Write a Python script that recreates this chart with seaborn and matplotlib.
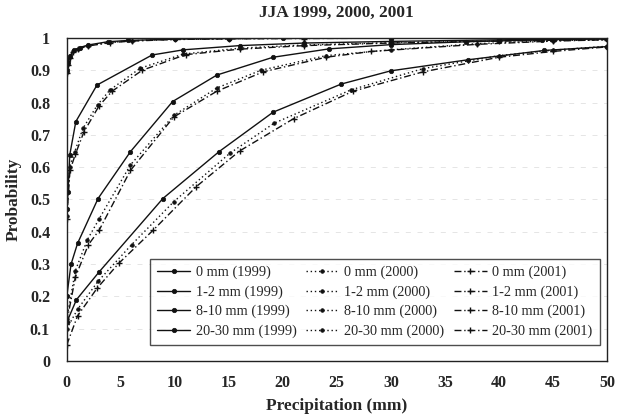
import numpy as np
import pandas as pd
import matplotlib
matplotlib.use("Agg")
import matplotlib.pyplot as plt
import seaborn as sns

# ---- data ----
classes = ["0 mm", "1-2 mm", "8-10 mm", "20-30 mm"]
years = ["1999", "2000", "2001"]

x_0_1999 = [0, 0.1, 0.3, 0.7, 1.2, 2, 3.8, 5.7, 10, 15, 20, 30, 40, 50]
y_0_1999 = [0.90, 0.925, 0.945, 0.962, 0.970, 0.978, 0.988, 0.992, 0.996, 0.998, 0.999, 1.0, 1.0, 1.0]
x_0_2000 = [0, 0.1, 0.3, 0.6, 1.0, 2, 4, 6, 10, 15, 22, 30, 40, 50]
y_0_2000 = [0.895, 0.92, 0.94, 0.958, 0.967, 0.976, 0.986, 0.991, 0.995, 0.997, 0.999, 1.0, 1.0, 1.0]
x_0_2001 = [0, 0.1, 0.3, 0.6, 1.0, 2, 4, 6, 10, 15, 22, 30, 40, 50]
y_0_2001 = [0.89, 0.915, 0.938, 0.955, 0.965, 0.975, 0.985, 0.990, 0.995, 0.997, 0.998, 0.999, 1.0, 1.0]

x_1_1999 = [0, 0.12, 0.28, 0.84, 2.8, 7.9, 10.8, 16, 22, 30, 40, 50]
y_1_1999 = [0.47, 0.524, 0.638, 0.741, 0.854, 0.947, 0.963, 0.976, 0.984, 0.989, 0.994, 0.997]
x_1_2000 = [0, 0.28, 0.74, 1.5, 2.85, 4.0, 6.8, 10.8, 16, 22, 30, 40, 50]
y_1_2000 = [0.45, 0.602, 0.648, 0.72, 0.793, 0.839, 0.906, 0.950, 0.968, 0.978, 0.985, 0.991, 0.995]
x_1_2001 = [0, 0.3, 0.8, 1.6, 3.0, 4.2, 7.0, 11, 16, 22, 30, 40, 50]
y_1_2001 = [0.44, 0.59, 0.64, 0.71, 0.79, 0.835, 0.90, 0.948, 0.965, 0.976, 0.984, 0.990, 0.995]

x_8_1999 = [0, 0.4, 1.0, 2.9, 5.9, 9.8, 13.9, 19.1, 24.3, 30, 37, 44, 50]
y_8_1999 = [0.20, 0.30, 0.364, 0.503, 0.648, 0.803, 0.885, 0.940, 0.966, 0.979, 0.988, 0.994, 0.997]
x_8_2000 = [0, 0.8, 1.9, 3.0, 5.9, 9.9, 13.9, 18.0, 24, 30, 38, 45, 50]
y_8_2000 = [0.13, 0.28, 0.375, 0.44, 0.607, 0.760, 0.845, 0.900, 0.945, 0.963, 0.982, 0.991, 0.995]
x_8_2001 = [0, 0.8, 2.0, 3.0, 5.9, 9.9, 13.9, 18.2, 24, 28.2, 38, 45, 50]
y_8_2001 = [0.12, 0.26, 0.36, 0.405, 0.59, 0.755, 0.835, 0.895, 0.940, 0.958, 0.980, 0.990, 0.994]

x_20_1999 = [0, 0.9, 3.0, 8.9, 14.1, 19.1, 25.4, 30.0, 37.1, 44.2, 50]
y_20_1999 = [0.12, 0.19, 0.276, 0.503, 0.648, 0.770, 0.857, 0.898, 0.932, 0.961, 0.973]
x_20_2000 = [0, 1.0, 2.9, 6.0, 9.9, 15.1, 19.2, 26.3, 33, 40, 45, 50]
y_20_2000 = [0.10, 0.16, 0.247, 0.36, 0.493, 0.643, 0.736, 0.839, 0.905, 0.945, 0.962, 0.974]
x_20_2001 = [0, 1.0, 2.8, 4.8, 8.0, 12, 16, 21, 26.5, 33, 40, 45, 50]
y_20_2001 = [0.05, 0.14, 0.225, 0.302, 0.405, 0.54, 0.65, 0.75, 0.835, 0.895, 0.94, 0.958, 0.972]

series = {
    ("0 mm", "1999"): (x_0_1999, y_0_1999),
    ("0 mm", "2000"): (x_0_2000, y_0_2000),
    ("0 mm", "2001"): (x_0_2001, y_0_2001),
    ("1-2 mm", "1999"): (x_1_1999, y_1_1999),
    ("1-2 mm", "2000"): (x_1_2000, y_1_2000),
    ("1-2 mm", "2001"): (x_1_2001, y_1_2001),
    ("8-10 mm", "1999"): (x_8_1999, y_8_1999),
    ("8-10 mm", "2000"): (x_8_2000, y_8_2000),
    ("8-10 mm", "2001"): (x_8_2001, y_8_2001),
    ("20-30 mm", "1999"): (x_20_1999, y_20_1999),
    ("20-30 mm", "2000"): (x_20_2000, y_20_2000),
    ("20-30 mm", "2001"): (x_20_2001, y_20_2001),
}

rows = []
for (c, yr), (xs, ys) in series.items():
    for xv, yv in zip(xs, ys):
        rows.append({"cls": c, "year": yr, "precip": xv, "prob": yv,
                     "label": f"{c} ({yr})"})
df = pd.DataFrame(rows)

# ---- style ----
sns.set_style("white")
plt.rcParams["font.family"] = ["Liberation Serif", "DejaVu Serif"]

styles = {
    "1999": dict(linestyle="-", marker="o", markersize=3.2, linewidth=1.0),
    "2000": dict(linestyle=(0, (1, 2)), marker="o", markersize=2.6, linewidth=1.0),
    "2001": dict(linestyle=(0, (5, 2, 1, 2)), marker="+", markersize=4.5, linewidth=1.0,
                 markeredgewidth=1.0),
}

fig = plt.figure(figsize=(6.18, 4.16), dpi=100)
ax = fig.add_axes([0.108, 0.132, 0.874, 0.777])

for yr in years:
    for c in classes:
        sub = df[(df["cls"] == c) & (df["year"] == yr)]
        st = styles[yr]
        sns.lineplot(data=sub, x="precip", y="prob", ax=ax, color="#111111",
                     estimator=None, sort=False, label=f"{c} ({yr})",
                     linestyle=st["linestyle"], linewidth=st["linewidth"],
                     marker=st["marker"], markersize=st["markersize"],
                     markeredgecolor="#111111",
                     markeredgewidth=st.get("markeredgewidth", 0.5))

ax.set_xlim(0, 50)
ax.set_ylim(0, 1)
ax.set_xticks(np.arange(0, 51, 5))
ax.set_yticks(np.round(np.arange(0, 1.01, 0.1), 1))
ax.set_yticklabels(["0", "0.1", "0.2", "0.3", "0.4", "0.5", "0.6", "0.7",
                    "0.8", "0.9", "1"])
ax.yaxis.grid(True, color="#e0e0e0", linewidth=0.6, linestyle=(0, (6, 8)))
ax.set_axisbelow(True)
for s in ax.spines.values():
    s.set_color("#222222")
    s.set_linewidth(1.0)
ax.tick_params(axis="y", labelsize=11.5, length=0, pad=12)
ax.tick_params(axis="x", labelsize=11.5, length=0, pad=10)
for lab in ax.get_xticklabels() + ax.get_yticklabels():
    lab.set_fontweight("bold")

ax.set_xlabel("Precipitation (mm)", fontsize=12.5, fontweight="bold", labelpad=5)
ax.set_ylabel("Probability", fontsize=12.5, fontweight="bold", labelpad=6)
ax.set_title("JJA 1999, 2000, 2001", fontsize=12.5, fontweight="bold", pad=15)

leg = ax.legend(ncol=3, loc="lower left", bbox_to_anchor=(0.154, 0.05, 0.833, 0.25),
                mode="expand", borderaxespad=0, fontsize=10.3, frameon=True,
                fancybox=False, edgecolor="#222222", handlelength=2.3,
                handletextpad=0.4, borderpad=0.5, labelspacing=0.42,
                columnspacing=0.6)
leg.get_frame().set_linewidth(1.0)

fig.savefig("out.png", dpi=100)
